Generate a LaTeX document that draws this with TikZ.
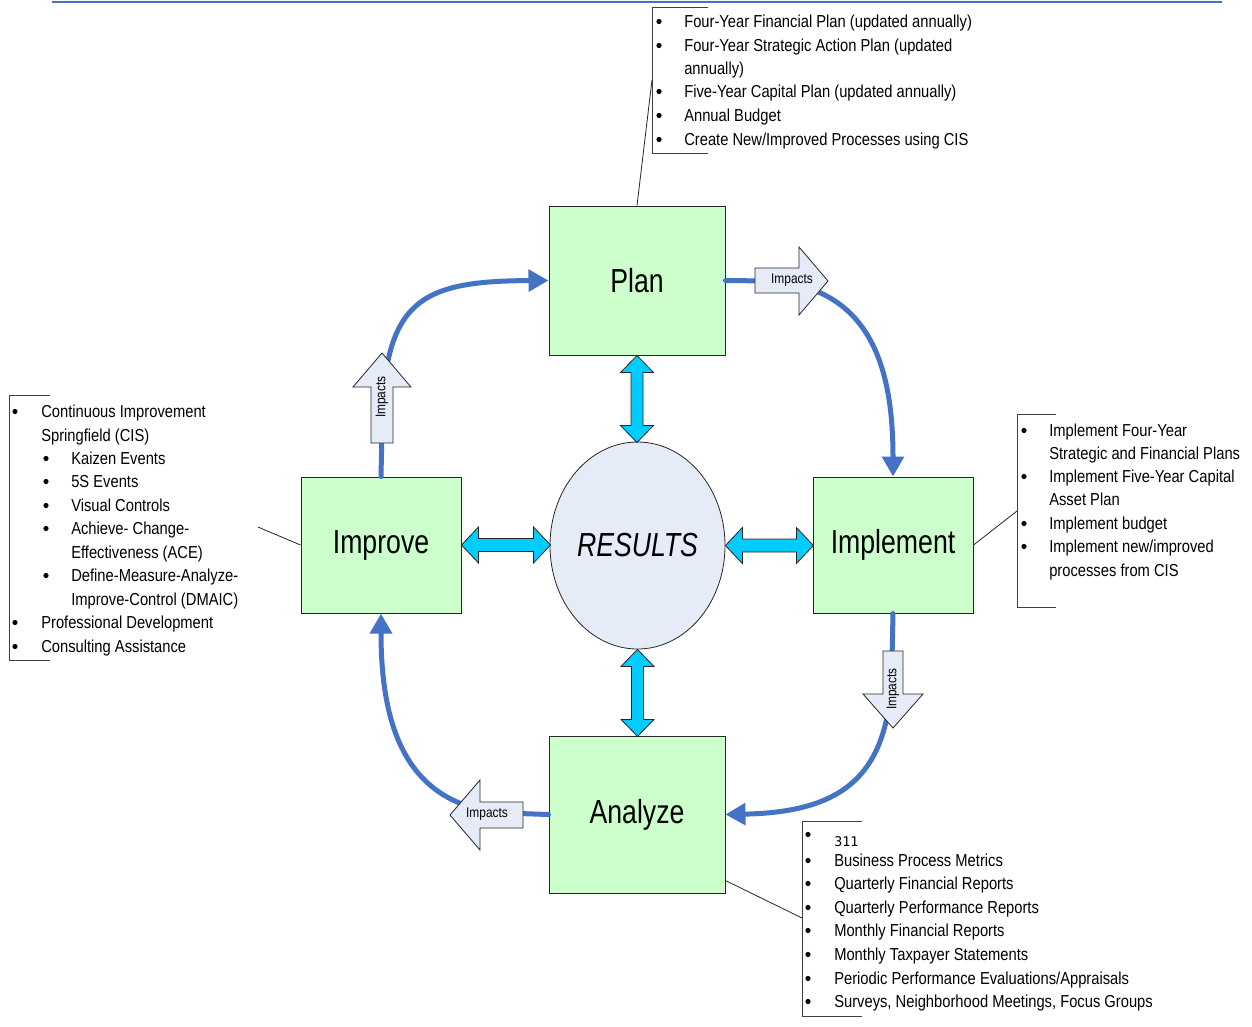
\documentclass[tikz,border=0pt]{standalone}
\usepackage{fontspec}
\setmainfont{Liberation Sans}[FakeStretch=0.85]
\newfontfamily\labfont{Liberation Sans}[FakeStretch=0.8]
\newfontfamily\numfont{DejaVu Sans Mono}
\usetikzlibrary{arrows.meta,shapes.geometric}
\definecolor{boxgreen}{HTML}{CCFFCC}
\definecolor{flowblue}{HTML}{4472C4}
\definecolor{cyanarr}{HTML}{00CCFF}
\definecolor{resfill}{HTML}{E6ECF7}
\definecolor{impfill}{HTML}{E6ECF7}
\newcommand\itm[4]{\node[item] (#1) at (#2,#3+7) {#4};}
\newcommand\bul[2]{\fill (#1,#2+1.5) circle[radius=1.95pt];}
\begin{document}
\begin{tikzpicture}[x=0.75pt,y=-0.75pt,
  stage/.style={draw=black!85, line width=0.75pt, fill=boxgreen, inner sep=0pt,
    font=\labfont\fontsize{25}{30}\selectfont},
  flow/.style={draw=flowblue, line width=3.75pt, line cap=round,
    -{Triangle[length=15pt,width=16pt]}},
  dbl/.style={draw=black!85, line width=0.6pt, fill=cyanarr, line join=miter},
  imp/.style={draw=black!85, line width=0.6pt, fill=impfill, line join=miter},
  implabel/.style={inner sep=0pt, font=\fontsize{10.5}{12}\selectfont},
  item/.style={anchor=base west, inner sep=0pt, font=\fontsize{13}{17}\selectfont},
  bracket/.style={draw=black!75, line width=0.75pt},
  leader/.style={draw=black!85, line width=0.6pt}]
\useasboundingbox (0,0) rectangle (1252,1026);
\fill[white] (0,0) rectangle (1252,1026);

% top rule
\draw[flowblue, line width=1.5pt] (52,2) -- (1222,2);

% stages
\node[stage, minimum width=176*0.75pt, minimum height=149*0.75pt] (plan) at (637,280.5) {Plan};
\node[stage, minimum width=160*0.75pt, minimum height=136*0.75pt] (implement) at (893,545) {Implement};
\node[stage, minimum width=160*0.75pt, minimum height=136*0.75pt] (improve) at (381,545) {Improve};
\node[stage, minimum width=176*0.75pt, minimum height=157*0.75pt] (analyze) at (637,814.5) {Analyze};
\node[ellipse, draw=black!85, line width=0.6pt, fill=resfill, inner sep=0pt,
  minimum width=175*0.75pt, minimum height=207*0.75pt,
  font=\labfont\fontsize{25}{30}\selectfont\itshape] (results) at (637.5,545.5) {RESULTS};

% double arrows
\draw[dbl] (plan.south) -- ++(16.5,17) -- ++(-10.5,0) -- ++(0,53) -- ++(10.5,0)
  -- ++(-16.5,17) -- ++(-16.5,-17) -- ++(10.5,0) -- ++(0,-53) -- ++(-10.5,0) -- cycle;
\draw[dbl] (results.south) -- ++(16.5,17) -- ++(-10.5,0) -- ++(0,53) -- ++(10.5,0)
  -- ++(-16.5,17) -- ++(-16.5,-17) -- ++(10.5,0) -- ++(0,-53) -- ++(-10.5,0) -- cycle;
\draw[dbl] (improve.east) -- ++(17,-18) -- ++(0,11.5) -- ++(55,0) -- ++(0,-11.5)
  -- ++(17,18) -- ++(-17,18) -- ++(0,-11.5) -- ++(-55,0) -- ++(0,11.5) -- cycle;
\draw[dbl] (results.east) -- ++(17,-18) -- ++(0,11.5) -- ++(54,0) -- ++(0,-11.5)
  -- ++(17,18) -- ++(-17,18) -- ++(0,-11.5) -- ++(-54,0) -- ++(0,11.5) -- cycle;

% flow curves
\draw[flow] (plan.east) -- (770,281) .. controls (872,288) and (893,370) .. (implement.north);
\draw[flow] (implement.south) -- (892,660) .. controls (892,770) and (850,812) .. (analyze.east);
\draw[flow] (analyze.west) -- (505,813) .. controls (405,806) and (381,725) .. (improve.south);
\draw[flow] (improve.north) -- (382,430) .. controls (383,300) and (420,281) .. (plan.west);

% impacts arrows
\draw[imp] (755,268) -- (799,268) -- (799,247) -- (828,281) -- (799,315) -- (799,293) -- (755,293) -- cycle;
\node[implabel] (impR) at (792,280.5) {Impacts};
\draw[imp] (371,443) -- (371,387) -- (353,387) -- (382,353) -- (411,387) -- (393,387) -- (393,443) -- cycle;
\node[implabel, rotate=90] (impU) at (382,397) {Impacts};
\draw[imp] (883,651) -- (903,651) -- (903,694) -- (923,694) -- (893,728) -- (863,694) -- (883,694) -- cycle;
\node[implabel, rotate=90] (impD) at (893,689) {Impacts};
\draw[imp] (523,802) -- (480,802) -- (480,780) -- (450,815) -- (480,850) -- (480,828) -- (523,828) -- cycle;
\node[implabel] (impL) at (487,814) {Impacts};

% brackets and leaders
\draw[bracket] (708,7) -- (652,7) -- (652,153) -- (708,153);
\coordinate (brT) at (652,80);
\draw[leader] (plan.north) -- (brT);
\draw[bracket] (50,395) -- (9,395) -- (9,660) -- (50,660);
\coordinate (ldL) at (258,527);
\draw[leader] (improve.west) -- (ldL);
\draw[bracket] (1056,414) -- (1017,414) -- (1017,607) -- (1056,607);
\coordinate (brR) at (1017,511);
\draw[leader] (implement.east) -- (brR);
\draw[bracket] (862,821) -- (802,821) -- (802,1016) -- (862,1016);
\coordinate (brB) at (802,918);
\draw[leader] ([yshift=9.75pt]analyze.south east) -- (brB);

% top list
\bul{659}{20}\itm{t1}{684}{20}{Four-Year Financial Plan (updated annually)}
\bul{659}{44}\itm{t2}{684}{44}{Four-Year Strategic Action Plan (updated}
\itm{t3}{684}{67}{annually)}
\bul{659}{90}\itm{t4}{684}{90}{Five-Year Capital Plan (updated annually)}
\bul{659}{114}\itm{t5}{684}{114}{Annual Budget}
\bul{659}{138}\itm{t6}{684}{138}{Create New/Improved Processes using CIS}

% left list
\bul{15}{410}\itm{l1}{41}{410}{Continuous Improvement}
\itm{l2}{41}{434}{Springfield (CIS)}
\bul{46}{457}\itm{l3}{71}{457}{Kaizen Events}
\bul{46}{480}\itm{l4}{71}{480}{5S Events}
\bul{46}{504}\itm{l5}{71}{504}{Visual Controls}
\bul{46}{527}\itm{l6}{71}{527}{Achieve- Change-}
\itm{l7}{71}{551}{Effectiveness (ACE)}
\bul{46}{574}\itm{l8}{71}{574}{Define-Measure-Analyze-}
\itm{l9}{71}{598}{Improve-Control (DMAIC)}
\bul{15}{621}\itm{l10}{41}{621}{Professional Development}
\bul{15}{645}\itm{l11}{41}{645}{Consulting Assistance}

% right list
\bul{1024}{429}\itm{r1}{1049}{429}{Implement Four-Year}
\itm{r2}{1049}{452}{Strategic and Financial Plans}
\bul{1024}{475}\itm{r3}{1049}{475}{Implement Five-Year Capital}
\itm{r4}{1049}{498}{Asset Plan}
\bul{1024}{522}\itm{r5}{1049}{522}{Implement budget}
\bul{1024}{545}\itm{r6}{1049}{545}{Implement new/improved}
\itm{r7}{1049}{569}{processes from CIS}

% bottom list
\bul{808}{833}\node[anchor=base west, inner sep=0pt, font=\numfont\fontsize{10}{12}\selectfont] (b0) at (834,846) {311};
\bul{808}{859}\itm{b1}{834}{859}{Business Process Metrics}
\bul{808}{882}\itm{b2}{834}{882}{Quarterly Financial Reports}
\bul{808}{906}\itm{b3}{834}{906}{Quarterly Performance Reports}
\bul{808}{929}\itm{b4}{834}{929}{Monthly Financial Reports}
\bul{808}{953}\itm{b5}{834}{953}{Monthly Taxpayer Statements}
\bul{808}{977}\itm{b6}{834}{977}{Periodic Performance Evaluations/Appraisals}
\bul{808}{1000}\itm{b7}{834}{1000}{Surveys, Neighborhood Meetings, Focus Groups}
\end{tikzpicture}
\end{document}
